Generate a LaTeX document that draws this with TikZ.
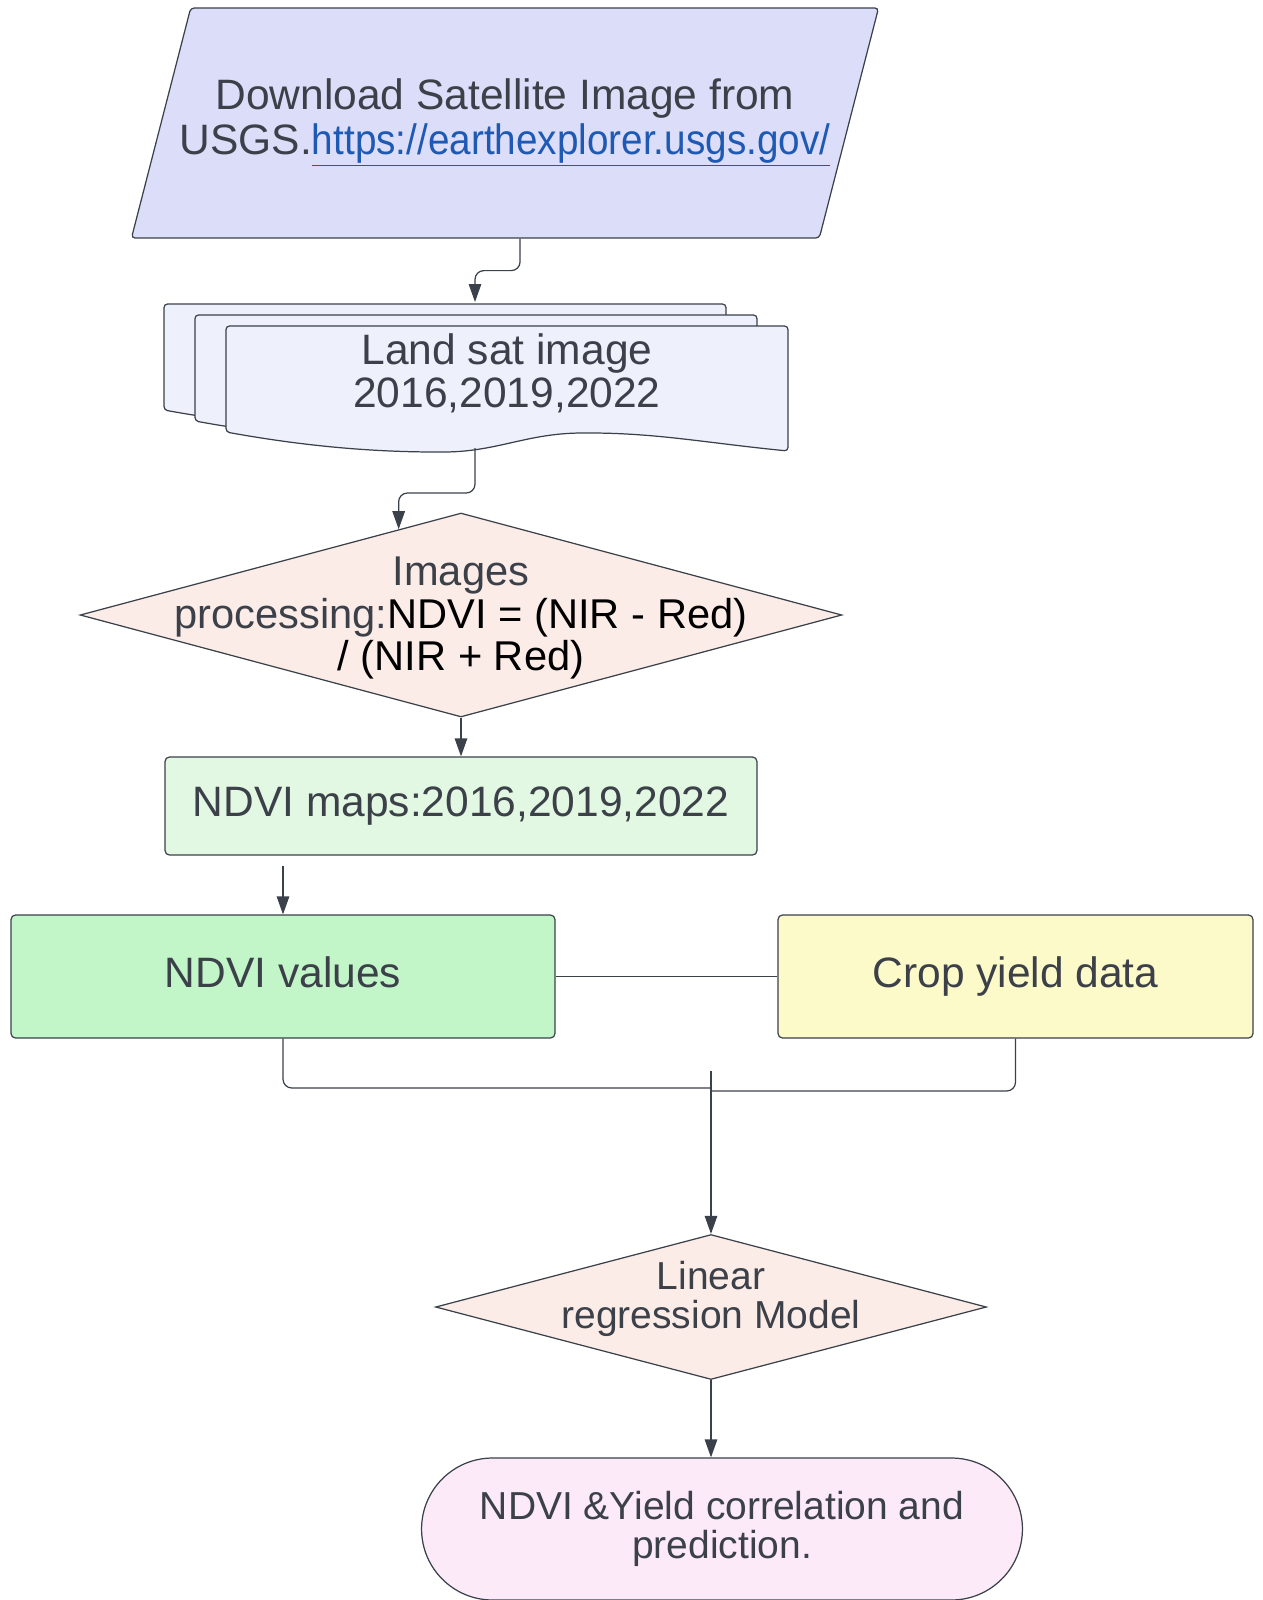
\documentclass[tikz,border=0pt]{standalone}
\usepackage{fontspec}
\setmainfont{Liberation Sans}
\usetikzlibrary{arrows.meta,
                calc,
                positioning,
                shapes.geometric}

\definecolor{linegray}{HTML}{3A414A}
\definecolor{txtgray}{HTML}{3B4049}
\definecolor{linkblue}{HTML}{1E5AB4}
\definecolor{iofill}{HTML}{DCDDF8}
\definecolor{docfill}{HTML}{EEF0FC}
\definecolor{decfill}{HTML}{FBECE8}
\definecolor{mapsfill}{HTML}{E2F8E2}
\definecolor{valfill}{HTML}{C2F5C8}
\definecolor{yieldfill}{HTML}{FCFAC8}
\definecolor{endfill}{HTML}{FCEAF9}

\newcommand\bigtxt{\fontsize{24.2pt}{24.4pt}\selectfont}
\newcommand\midtxt{\fontsize{23.7pt}{24.2pt}\selectfont}
\newcommand\smalltxt{\fontsize{22.2pt}{22.6pt}\selectfont}

% one sheet of the stack, shifted left/up by #1/#2
\newcommand\docsheet[2]{%
    \path[sheet]
        ($(stack)+(-281-#1,-47-#2)$) -- ($(stack)+(281-#1,-47-#2)$)
        -- ($(stack)+(281-#1,78-#2)$)
        .. controls ($(stack)+(200-#1,70-#2)$) and ($(stack)+(150-#1,60-#2)$) .. ($(stack)+(79-#1,60-#2)$)
        .. controls ($(stack)+(20-#1,60-#2)$) and ($(stack)+(-10-#1,79-#2)$) .. ($(stack)+(-67-#1,79-#2)$)
        .. controls ($(stack)+(-150-#1,79-#2)$) and ($(stack)+(-220-#1,70-#2)$) .. ($(stack)+(-281-#1,59-#2)$)
        -- cycle;}

\begin{document}
\begin{tikzpicture}[
    x=0.02cm, y=-0.02cm,
    font=\bigtxt, text=txtgray,
        base/.style = {draw=linegray, line width=0.7pt, align=center, inner sep=0pt},
        io/.style = {base, trapezium, trapezium left angle=56, trapezium right angle=124,
                    trapezium stretches=true, rounded corners=2pt, fill=iofill},
        decision/.style = {base, diamond, fill=decfill},
        process/.style = {base, rectangle, rounded corners=2.5pt,
                    text height=0.62cm, text depth=0.2cm},
        startstop/.style = {base, rectangle, rounded corners=1.42cm, fill=endfill},
        sheet/.style = {draw=linegray, line width=0.7pt, fill=docfill, rounded corners=2pt},
        link/.style = {draw=linegray, line width=0.7pt, rounded corners=5pt},
        flow/.style = {link, -{Triangle[length=0.36cm, width=0.25cm]}}
        ]
    \useasboundingbox (0,0) rectangle (1262,1600);

    % download
    \node[io, inner xsep=-0.22cm, minimum height=4.6cm] (download) at (505,123)
        {Download Satellite Image from\\[1pt]
         USGS.\textcolor{linkblue}{\scalebox{0.91}[1]{\underline{https://earthexplorer.usgs.gov/}}}};

    % stack of landsat images
    \coordinate (stack) at (507,373);
    \docsheet{62}{22}
    \docsheet{31}{11}
    \docsheet{0}{0}
    \node[align=center] (landsat) at (stack) {Land sat image\\2016,2019,2022};
    \coordinate (stack-top) at ($(stack)+(-32,-71)$);
    \coordinate (stack-bot) at ($(stack)+(-32,75)$);

    % processing
    \node[decision, minimum width=15.24cm, minimum height=4.08cm,
          label={[align=center, font=\midtxt, yshift=-0.06cm]center:Images\\
                 processing:\textcolor{black}{NDVI = (NIR - Red)}\\
                 \textcolor{black}{/ (NIR + Red)}}] (proc) at (461,615) {};

    \node[process, fill=mapsfill, minimum width=11.84cm, minimum height=1.96cm]
        (maps) at (461,806) {NDVI maps:2016,2019,2022};

    \node[process, fill=valfill, minimum width=10.88cm, minimum height=2.46cm]
        (values) at (283,976.5) {NDVI values};
    \node[process, fill=yieldfill, minimum width=9.5cm, minimum height=2.46cm]
        (yield) at (1015.5,976.5) {Crop yield data};

    \node[decision, minimum width=11.02cm, minimum height=2.9cm,
          label={[align=center, font=\smalltxt, yshift=0.16cm]center:Linear\\regression Model}]
        (reg) at (711,1307) {};

    \node[startstop, minimum width=12.02cm, minimum height=2.84cm, font=\smalltxt]
        (result) at (722,1529) {NDVI \&Yield correlation and\\prediction.};

    \coordinate (join) at (711,1088);

    % connectors
    \draw[flow] ($(download.south)+(15,0)$) -- ++(0,32) -| (stack-top);
    \draw[flow] (stack-bot) -- ++(0,45) -| (proc.126.5);
    \draw[flow] (proc.south) -- (maps.north);
    \draw[flow] ($(maps.south -| values.north)+(0,10)$) -- (values.north);
    \draw[link] (values) -- (yield);
    \draw[link] (values.south) |- (join);
    \draw[link] (yield.south) |- ([yshift=-0.06cm]join);
    \draw[flow] ($(join)+(0,-17)$) -- (reg.north);
    \draw[flow] (reg.south) -- (reg.south |- result.north);

\end{tikzpicture}
\end{document}
